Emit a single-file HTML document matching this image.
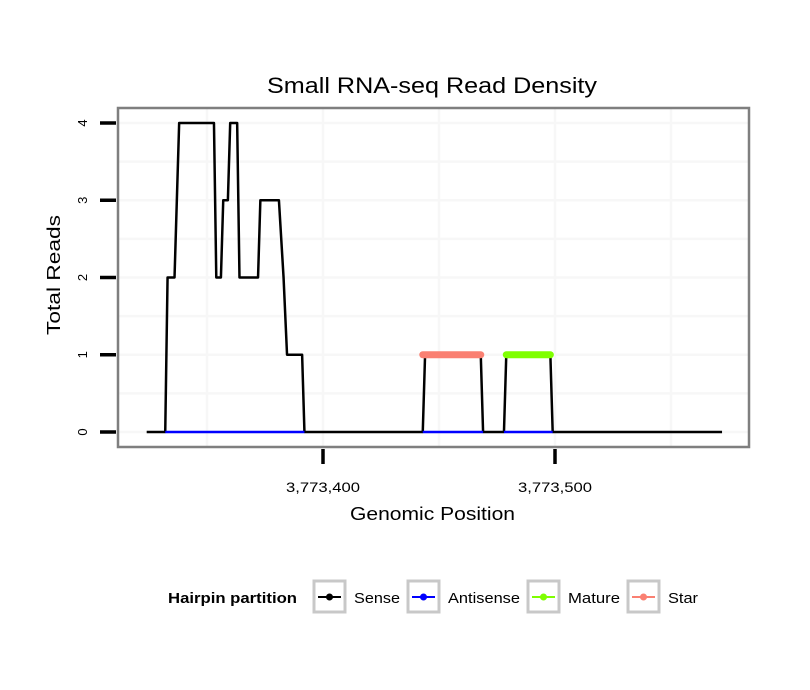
<!DOCTYPE html>
<html><head><meta charset="utf-8"><style>
body{margin:0;background:#fff;}
svg{display:block;font-family:"Liberation Sans",sans-serif;}
</style></head><body>
<svg id="chart" width="810" height="690" viewBox="0 0 810 690">
<rect width="810" height="690" fill="#fff"/>
<text x="267" y="93" font-size="22" textLength="330" lengthAdjust="spacingAndGlyphs">Small RNA-seq Read Density</text>
<g id="grid"></g>
<g id="series"></g>
<rect x="118" y="108" width="631" height="339" fill="none" stroke="#7f7f7f" stroke-width="2.5"/>
<g id="axes"></g>
<text x="350" y="520" font-size="18" textLength="165" lengthAdjust="spacingAndGlyphs">Genomic Position</text>
<text transform="translate(60,335) rotate(-90)" font-size="18" textLength="120" lengthAdjust="spacingAndGlyphs">Total Reads</text>
<g>
<text x="168" y="603" font-size="15" font-weight="bold" textLength="129" lengthAdjust="spacingAndGlyphs">Hairpin partition</text>
<g><rect x="314" y="581" width="31" height="31" fill="#fff" stroke="#c8c8c8" stroke-width="3"/><line x1="318" y1="597" x2="341" y2="597" stroke="#000" stroke-width="2"/><circle cx="329.5" cy="597" r="3.5" fill="#000"/><text x="354" y="603" font-size="15" textLength="46" lengthAdjust="spacingAndGlyphs">Sense</text></g>
<g><rect x="408" y="581" width="31" height="31" fill="#fff" stroke="#c8c8c8" stroke-width="3"/><line x1="412" y1="597" x2="435" y2="597" stroke="#0000ff" stroke-width="2"/><circle cx="423.5" cy="597" r="3.5" fill="#0000ff"/><text x="448" y="603" font-size="15" textLength="72" lengthAdjust="spacingAndGlyphs">Antisense</text></g>
<g><rect x="528" y="581" width="31" height="31" fill="#fff" stroke="#c8c8c8" stroke-width="3"/><line x1="532" y1="597" x2="555" y2="597" stroke="#7fff00" stroke-width="2"/><circle cx="543.5" cy="597" r="3.5" fill="#7fff00"/><text x="568" y="603" font-size="15" textLength="52" lengthAdjust="spacingAndGlyphs">Mature</text></g>
<g><rect x="628" y="581" width="31" height="31" fill="#fff" stroke="#c8c8c8" stroke-width="3"/><line x1="632" y1="597" x2="655" y2="597" stroke="#fa8072" stroke-width="2"/><circle cx="643.5" cy="597" r="3.5" fill="#fa8072"/><text x="668" y="603" font-size="15" textLength="30" lengthAdjust="spacingAndGlyphs">Star</text></g>
</g>
</svg>
<script>
const senseOffsets=[324,332,333,336,338,353,354,356,357,359,360,363,364,372,373,381,383,384.5,391,392,443,444,468,469,478,479,498,499,572];
const senseReads=[0,0,2,2,4,4,2,2,3,3,4,4,2,2,3,3,2,1,1,0,0,1,1,0,0,1,1,0,0];
const antisenseStarts=[332,443,478];
const antisenseEnds=[392,469,499];
const starRange=[443,468];
const starReads=1;
const matureRange=[479,498];
const matureReads=1;
const xTicks=[3773400,3773500];
const xTickLabels=["3,773,400","3,773,500"];
const xMinorGrid=[3773350,3773450,3773550];
const yTicks=[0,1,2,3,4];
const base=3773000;
const NS="http://www.w3.org/2000/svg";
function xs(v){return 323+(v-3773400)*2.32;}
function ys(v){return 432-v*77.25;}
function mk(parent,tag,attrs){const e=document.createElementNS(NS,tag);for(const k in attrs)e.setAttribute(k,attrs[k]);document.getElementById(parent).appendChild(e);return e;}
for(const g of xMinorGrid.concat(xTicks)){const e=mk('grid','line',{x1:xs(g),x2:xs(g),y1:109,y2:446,stroke:'#f7f7f7','stroke-width':2.5});

}
for(let v=0;v<=4;v+=0.5){const e=mk('grid','line',{x1:119,x2:748,y1:ys(v),y2:ys(v),stroke:'#f7f7f7','stroke-width':2.5});

}
const pts=senseOffsets.map((o,i)=>xs(base+o)+','+ys(senseReads[i])).join(' ');
const sl=mk('series','polyline',{points:pts,fill:'none',stroke:'#000','stroke-width':2.5,'stroke-linejoin':'round'});


for(let i=0;i<antisenseStarts.length;i++){const e=mk('series','line',{x1:xs(base+antisenseStarts[i]),x2:xs(base+antisenseEnds[i]),y1:ys(0),y2:ys(0),stroke:'#0000ff','stroke-width':2.5});

}
const st=mk('series','line',{x1:xs(base+starRange[0]),x2:xs(base+starRange[1]),y1:ys(starReads),y2:ys(starReads),stroke:'#fa8072','stroke-width':7,'stroke-linecap':'round'});


const mt=mk('series','line',{x1:xs(base+matureRange[0]),x2:xs(base+matureRange[1]),y1:ys(matureReads),y2:ys(matureReads),stroke:'#7fff00','stroke-width':7,'stroke-linecap':'round'});


xTicks.forEach((t,i)=>{const e=mk('axes','line',{x1:xs(t),x2:xs(t),y1:449,y2:464,stroke:'#000','stroke-width':3.5});


const l=mk('axes','text',{x:xs(t)-37,y:492,'font-size':14,textLength:74,lengthAdjust:'spacingAndGlyphs'});l.textContent=xTickLabels[i];

});
yTicks.forEach(t=>{const e=mk('axes','line',{x1:100,x2:116,y1:ys(t),y2:ys(t),stroke:'#000','stroke-width':3.5});


const l=mk('axes','text',{transform:`translate(87,${ys(t)}) rotate(-90)`,'font-size':13,'text-anchor':'middle'});l.textContent=t;

});
</script>
</body></html>
